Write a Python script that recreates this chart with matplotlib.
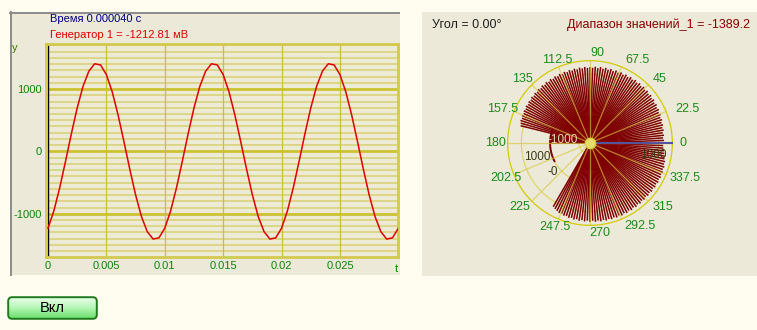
import numpy as np
import matplotlib
matplotlib.use("Agg")
import matplotlib.pyplot as plt
from matplotlib.patches import Rectangle, FancyBboxPatch
from matplotlib.lines import Line2D
from matplotlib.colors import LinearSegmentedColormap

plt.rcParams["font.family"] = ["Liberation Sans", "DejaVu Sans"]

# ---------------- data ----------------
# generator 1 signal, mV, sampled every 0.5 ms
t_step = 0.0005
signal_mv = [
    -1231, -955, -586, -160, 282, 696, 1043, 1287, 1405, 1386,
    1231, 955, 586, 160, -282, -696, -1043, -1287, -1405, -1386,
    -1231, -955, -586, -160, 282, 696, 1043, 1287, 1405, 1386,
    1231, 955, 586, 160, -282, -696, -1043, -1287, -1405, -1386,
    -1231, -955, -586, -160, 282, 696, 1043, 1287, 1405, 1386,
    1231, 955, 586, 160, -282, -696, -1043, -1287, -1405, -1386,
    -1231,
]
x_ticks = [0, 0.005, 0.01, 0.015, 0.02, 0.025]
x_tick_labels = ["0", "0.005", "0.01", "0.015", "0.02", "0.025"]
y_ticks = [-1000, 0, 1000]
y_tick_labels = ["-1000", "0", "1000"]

# polar diagram: value range and bar values (mV), one bar every 2 degrees
r_min = -1389.2
r_max = 1500
r_circles = [-1000, 0, 1000]
upper_sector = (0, 180)          # degrees, first / last bar
upper_values = [
    1150, 1190, 1160, 1200, 1170, 1215, 1185, 1230, 1200, 1245,
    1215, 1260, 1230, 1275, 1240, 1290, 1250, 1300, 1260, 1310,
    1265, 1315, 1270, 1320, 1270, 1320, 1270, 1315, 1265, 1310,
    1260, 1305, 1255, 1300, 1250, 1295, 1245, 1290, 1240, 1285,
    1235, 1280, 1230, 1275, 1230, 1270, 1225, 1265, 1220, 1260,
    1215, 1255, 1210, 1250, 1205, 1245, 1200, 1240, 1195, 1235,
    1190, 1230, 1185, 1225, 1180, 1220, 1175, 1210, 1170, 1205,
    1165, 1200, 1160, 1190, 1150, 1185, 1145, 1175, 1140, 1165,
    1130, 1155, 1120, 1100,
    20, 10, 0, -10, -20, -20, -30,
]
lower_sector = (240, 358)
lower_values = [
    1170, 1210, 1240, 1275, 1260, 1300, 1280, 1320, 1295, 1335,
    1305, 1345, 1310, 1350, 1315, 1355, 1320, 1360, 1325, 1365,
    1330, 1370, 1335, 1370, 1335, 1370, 1335, 1370, 1330, 1365,
    1325, 1360, 1320, 1355, 1315, 1350, 1310, 1345, 1305, 1345,
    1310, 1350, 1315, 1355, 1320, 1355, 1320, 1350, 1315, 1345,
    1305, 1330, 1290, 1300, 1260, 1255, 1220, 1200, 1170, 1160,
]
zero_arc = (160, 207)
angle_labels = ["0", "22.5", "45", "67.5", "90", "112.5", "135", "157.5",
                "180", "202.5", "225", "247.5", "270", "292.5", "315", "337.5"]

# ---------------- figure ----------------
W, H = 757, 330
fig = plt.figure(figsize=(W / 100, H / 100), dpi=100)
fig.patch.set_facecolor("#FFFCF0")


def fx(x):
    return x / W


def fy(y):
    return 1 - y / H


PANEL = "#ECE9D8"
GREEN = "#0A860A"

# left panel
fig.add_artist(Rectangle((fx(10), fy(275)), 390 / W, 263 / H, transform=fig.transFigure,
                         facecolor=PANEL, edgecolor="none", zorder=0))
fig.add_artist(Line2D([fx(10.5), fx(10.5)], [fy(12), fy(275)], color="#8C8C8C", lw=1.4))
fig.add_artist(Line2D([fx(10), fx(399)], [fy(12.5), fy(12.5)], color="#8C8C8C", lw=1.4))
# right panel
fig.add_artist(Rectangle((fx(422), fy(276)), (W - 422) / W, 264 / H, transform=fig.transFigure,
                         facecolor=PANEL, edgecolor="none", zorder=0))

# ---------------- time plot ----------------
ax = fig.add_axes([fx(46), fy(257), (398 - 46) / W, (257 - 44) / H])
ax.set_facecolor("#EDEAD6")
t = np.arange(len(signal_mv)) * t_step
ax.set_xlim(-0.00017, 0.02997)
ax.set_ylim(-1693, 1722)

for v in range(-1600, 1701, 100):
    if v % 1000 == 0:
        ax.axhline(v, color="#CCC232", lw=2.0, zorder=1)
    else:
        ax.axhline(v, color="#D9D27C", lw=1.2, zorder=1)
for xv in x_ticks[1:]:
    ax.axvline(xv, color="#C9BF3A", lw=0.9, zorder=1)
ax.axvline(0, color="black", lw=1.0, zorder=2)

ax.plot(t, signal_mv, color="#E00000", lw=1.1, zorder=3)

for s in ax.spines.values():
    s.set_color("#D2C94E")
    s.set_linewidth(2.0)
ax.set_xticks(x_ticks, x_tick_labels)
ax.set_yticks(y_ticks, y_tick_labels)
ax.tick_params(length=0, colors=GREEN, labelsize=8)
ax.tick_params(axis="y", pad=3)
ax.tick_params(axis="x", pad=3)

fig.text(fx(15), fy(48), "y", color="#3C7A00", fontsize=8, ha="center", va="center")
fig.text(fx(396), fy(269), "t", color=GREEN, fontsize=8, ha="center", va="center")
fig.text(fx(50), fy(19), "Время 0.000040 с", color="#000080", fontsize=8, ha="left", va="center")
fig.text(fx(50), fy(35), "Генератор 1 = -1212.81 мВ", color="#E00000", fontsize=8,
         ha="left", va="center")

# ---------------- polar diagram ----------------
cx, cy, R = 590, 143, 83
pax = fig.add_axes([fx(cx - R), fy(cy + R), 2 * R / W, 2 * R / H], projection="polar")
pax.set_facecolor("none")
pax.grid(False)
pax.set_xticks([])
pax.set_yticks([])
pax.spines["polar"].set_visible(False)
pax.set_ylim(r_min, r_max)

full = np.linspace(0, 2 * np.pi, 361)
for rc in r_circles:
    pax.plot(full, np.full_like(full, rc), color="#DDD66A", lw=0.9, zorder=1)

up_th = np.radians(np.linspace(upper_sector[0], upper_sector[1], len(upper_values)))
lo_th = np.radians(np.linspace(lower_sector[0], lower_sector[1], len(lower_values)))
pax.vlines(up_th, r_min, upper_values, color="#7E0000", lw=1.1, zorder=2)
pax.vlines(lo_th, r_min, lower_values, color="#7E0000", lw=1.1, zorder=2)

arc = np.radians(np.linspace(zero_arc[0], zero_arc[1], 60))
pax.plot(arc, np.zeros_like(arc), color="#7E0000", lw=1.4, zorder=2)

for k in range(16):
    th = np.radians(22.5 * k)
    pax.plot([th, th], [r_min, r_max], color="#D8C63A", lw=0.9, alpha=0.65, zorder=3)

pax.plot(full, np.full_like(full, r_max), color="#D2CC10", lw=1.9, zorder=4)
pax.plot([0, 0], [r_min, r_max], color="#54549C", lw=1.5, zorder=5)
pax.scatter([0], [r_min], s=55, color="#E6DE6A", edgecolors="#D8D040", zorder=6)

label_px = [(683, 143), (687, 109), (660, 79), (637, 60), (597, 53), (557, 60),
            (522, 79), (503, 109), (495, 143), (506, 178), (520, 207), (555, 227),
            (600, 233), (640, 226), (663, 207), (685, 178)]
for lab, (lx, ly) in zip(angle_labels, label_px):
    fig.text(fx(lx), fy(ly), lab, color="#1A8C1A", fontsize=9, ha="center", va="center")

fig.text(fx(563), fy(140), "-1000", color="#E4DCB8", fontsize=8.5, ha="center", va="center")
fig.text(fx(537), fy(157), "1000", color="#3A3A14", fontsize=8.5, ha="center", va="center")
fig.text(fx(553), fy(172), "-0", color="#3A3A14", fontsize=8.5, ha="center", va="center")
fig.text(fx(653), fy(155), "1000", color="#3A3A14", fontsize=8.5, ha="center", va="center")

fig.text(fx(432), fy(25), "Угол = 0.00°", color="#202020", fontsize=9, ha="left", va="center")
fig.text(fx(567), fy(25), "Диапазон значений_1 = -1389.2", color="#8B0000", fontsize=9,
         ha="left", va="center")

# ---------------- button ----------------
bax = fig.add_axes([fx(7), fy(320), 91 / W, 24 / H])
bax.axis("off")
bax.set_xlim(0, 91)
bax.set_ylim(0, 24)
grad = np.linspace(0, 1, 60).reshape(-1, 1)
cmap = LinearSegmentedColormap.from_list("btn", ["#F2FFF2", "#B4F6B4", "#5EDC5E"])
im = bax.imshow(grad, aspect="auto", cmap=cmap, extent=[0, 91, 0, 24], origin="upper")
shape = FancyBboxPatch((1.2, 1.2), 88.6, 21.6, boxstyle="round,pad=0,rounding_size=4",
                       facecolor="none", edgecolor="#1F7A1F", lw=1.4)
bax.add_patch(shape)
im.set_clip_path(shape)
bax.text(45.5, 12, "Вкл", color="black", fontsize=10.5, ha="center", va="center")

fig.savefig("out.png", dpi=100, facecolor=fig.get_facecolor())
